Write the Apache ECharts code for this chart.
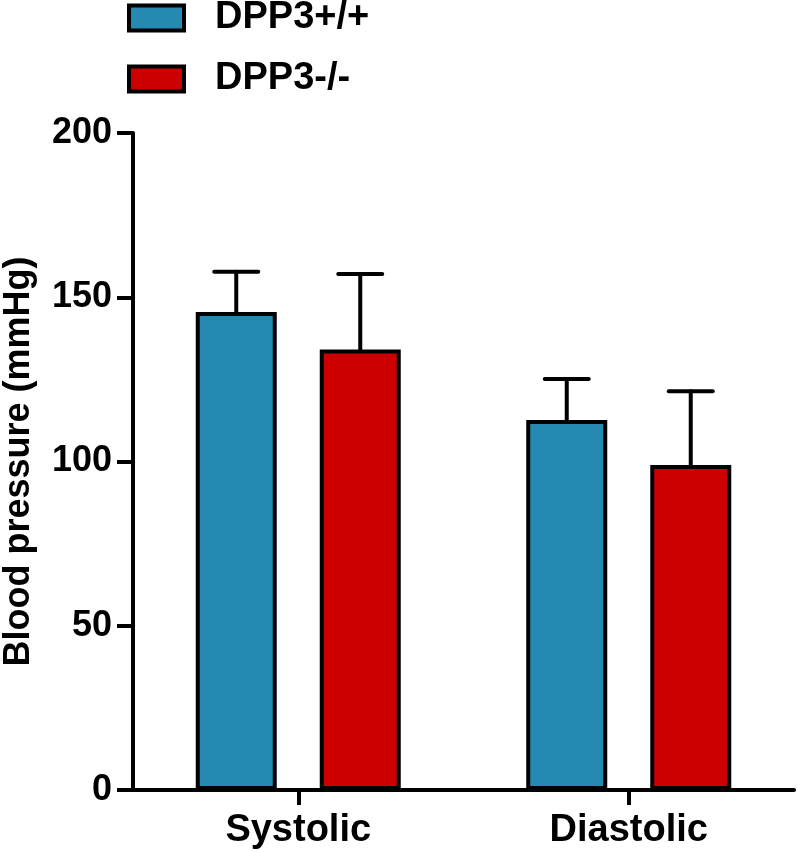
<!DOCTYPE html>
<html>
<head>
<meta charset="utf-8">
<script src="https://cdn.jsdelivr.net/npm/echarts@6/dist/echarts.min.js"></script>
<style>
html,body{margin:0;padding:0;background:#fff;}
#chart{width:798px;height:852px;}
</style>
</head>
<body>
<div id="chart"></div>
<script>
const categories = ['Systolic', 'Diastolic'];
const seriesNames = ['DPP3+/+', 'DPP3-/-'];
const wildTypeMean = [145.5, 112.6];
const wildTypeErr = [12.3, 12.5];
const knockoutMean = [134.1, 98.9];
const knockoutErr = [23.0, 22.5];
const yTicks = [0, 50, 100, 150, 200];

const FONT = '"Liberation Sans", Arial, sans-serif';
const BAR_W = 81;
const BAR_GAP = 43;
const CAP_HALF = 22;
const colors = ['#2689b2', '#cc0000'];

const chart = echarts.init(document.getElementById('chart'), null, {renderer: 'canvas'});

function errSeries(means, errs, sign, name) {
  return {
    type: 'custom',
    name: name + ' err',
    z: 5,
    silent: true,
    data: means.map((m, i) => [i, m, m + errs[i]]),
    encode: {x: 0, y: [1, 2]},
    renderItem: function (params, api) {
      const off = sign * (BAR_W + BAR_GAP) / 2;
      const p0 = api.coord([api.value(0), api.value(1)]);
      const p1 = api.coord([api.value(0), api.value(2)]);
      const x = p0[0] + off;
      const style = {stroke: '#000', lineWidth: 4, lineCap: 'round'};
      return {
        type: 'group',
        children: [
          {type: 'line', shape: {x1: x, y1: p0[1], x2: x, y2: p1[1]}, style: style},
          {type: 'line', shape: {x1: x - CAP_HALF, y1: p1[1], x2: x + CAP_HALF, y2: p1[1]}, style: style}
        ]
      };
    }
  };
}

const option = {
  animation: false,
  backgroundColor: '#fff',
  textStyle: {fontFamily: FONT},
  legend: {
    data: seriesNames,
    orient: 'vertical',
    left: 127,
    top: -1,
    padding: 0,
    itemWidth: 55,
    itemHeight: 25,
    itemGap: 23,
    icon: 'rect',
    itemStyle: {borderColor: '#000', borderWidth: 4},
    textStyle: {fontFamily: FONT, fontWeight: 'bold', fontSize: 38, color: '#000', lineHeight: 30, padding: [0, 0, 0, 26]}
  },
  grid: {left: 133, right: 4, top: 133, bottom: 62, containLabel: false, outerBoundsMode: 'none'},
  xAxis: {
    type: 'category',
    data: categories,
    boundaryGap: true,
    axisLine: {lineStyle: {color: '#000', width: 4}},
    axisTick: {show: true, alignWithLabel: true, length: 15, lineStyle: {color: '#000', width: 4}},
    axisLabel: {fontFamily: FONT, fontWeight: 'bold', fontSize: 38, color: '#000', margin: 22}
  },
  yAxis: {
    type: 'value',
    min: yTicks[0],
    max: yTicks[yTicks.length - 1],
    interval: yTicks[1] - yTicks[0],
    name: 'Blood pressure (mmHg)',
    nameLocation: 'middle',
    nameRotate: 90,
    nameGap: 96,
    nameTextStyle: {fontFamily: FONT, fontWeight: 'bold', fontSize: 36, color: '#000'},
    axisLine: {show: true, lineStyle: {color: '#000', width: 4}},
    axisTick: {show: true, length: 16, lineStyle: {color: '#000', width: 4}},
    splitLine: {show: false},
    axisLabel: {fontFamily: FONT, fontWeight: 'bold', fontSize: 36, color: '#000', margin: 21}
  },
  series: [
    {
      name: seriesNames[0], type: 'bar', data: wildTypeMean,
      barWidth: BAR_W, barGap: (BAR_GAP / BAR_W * 100).toFixed(1) + '%',
      itemStyle: {color: colors[0], borderColor: '#000', borderWidth: 4}
    },
    {
      name: seriesNames[1], type: 'bar', data: knockoutMean,
      barWidth: BAR_W,
      itemStyle: {color: colors[1], borderColor: '#000', borderWidth: 4}
    },
    errSeries(wildTypeMean, wildTypeErr, -1, seriesNames[0]),
    errSeries(knockoutMean, knockoutErr, 1, seriesNames[1])
  ]
};
chart.setOption(option);
</script>
</body>
</html>
